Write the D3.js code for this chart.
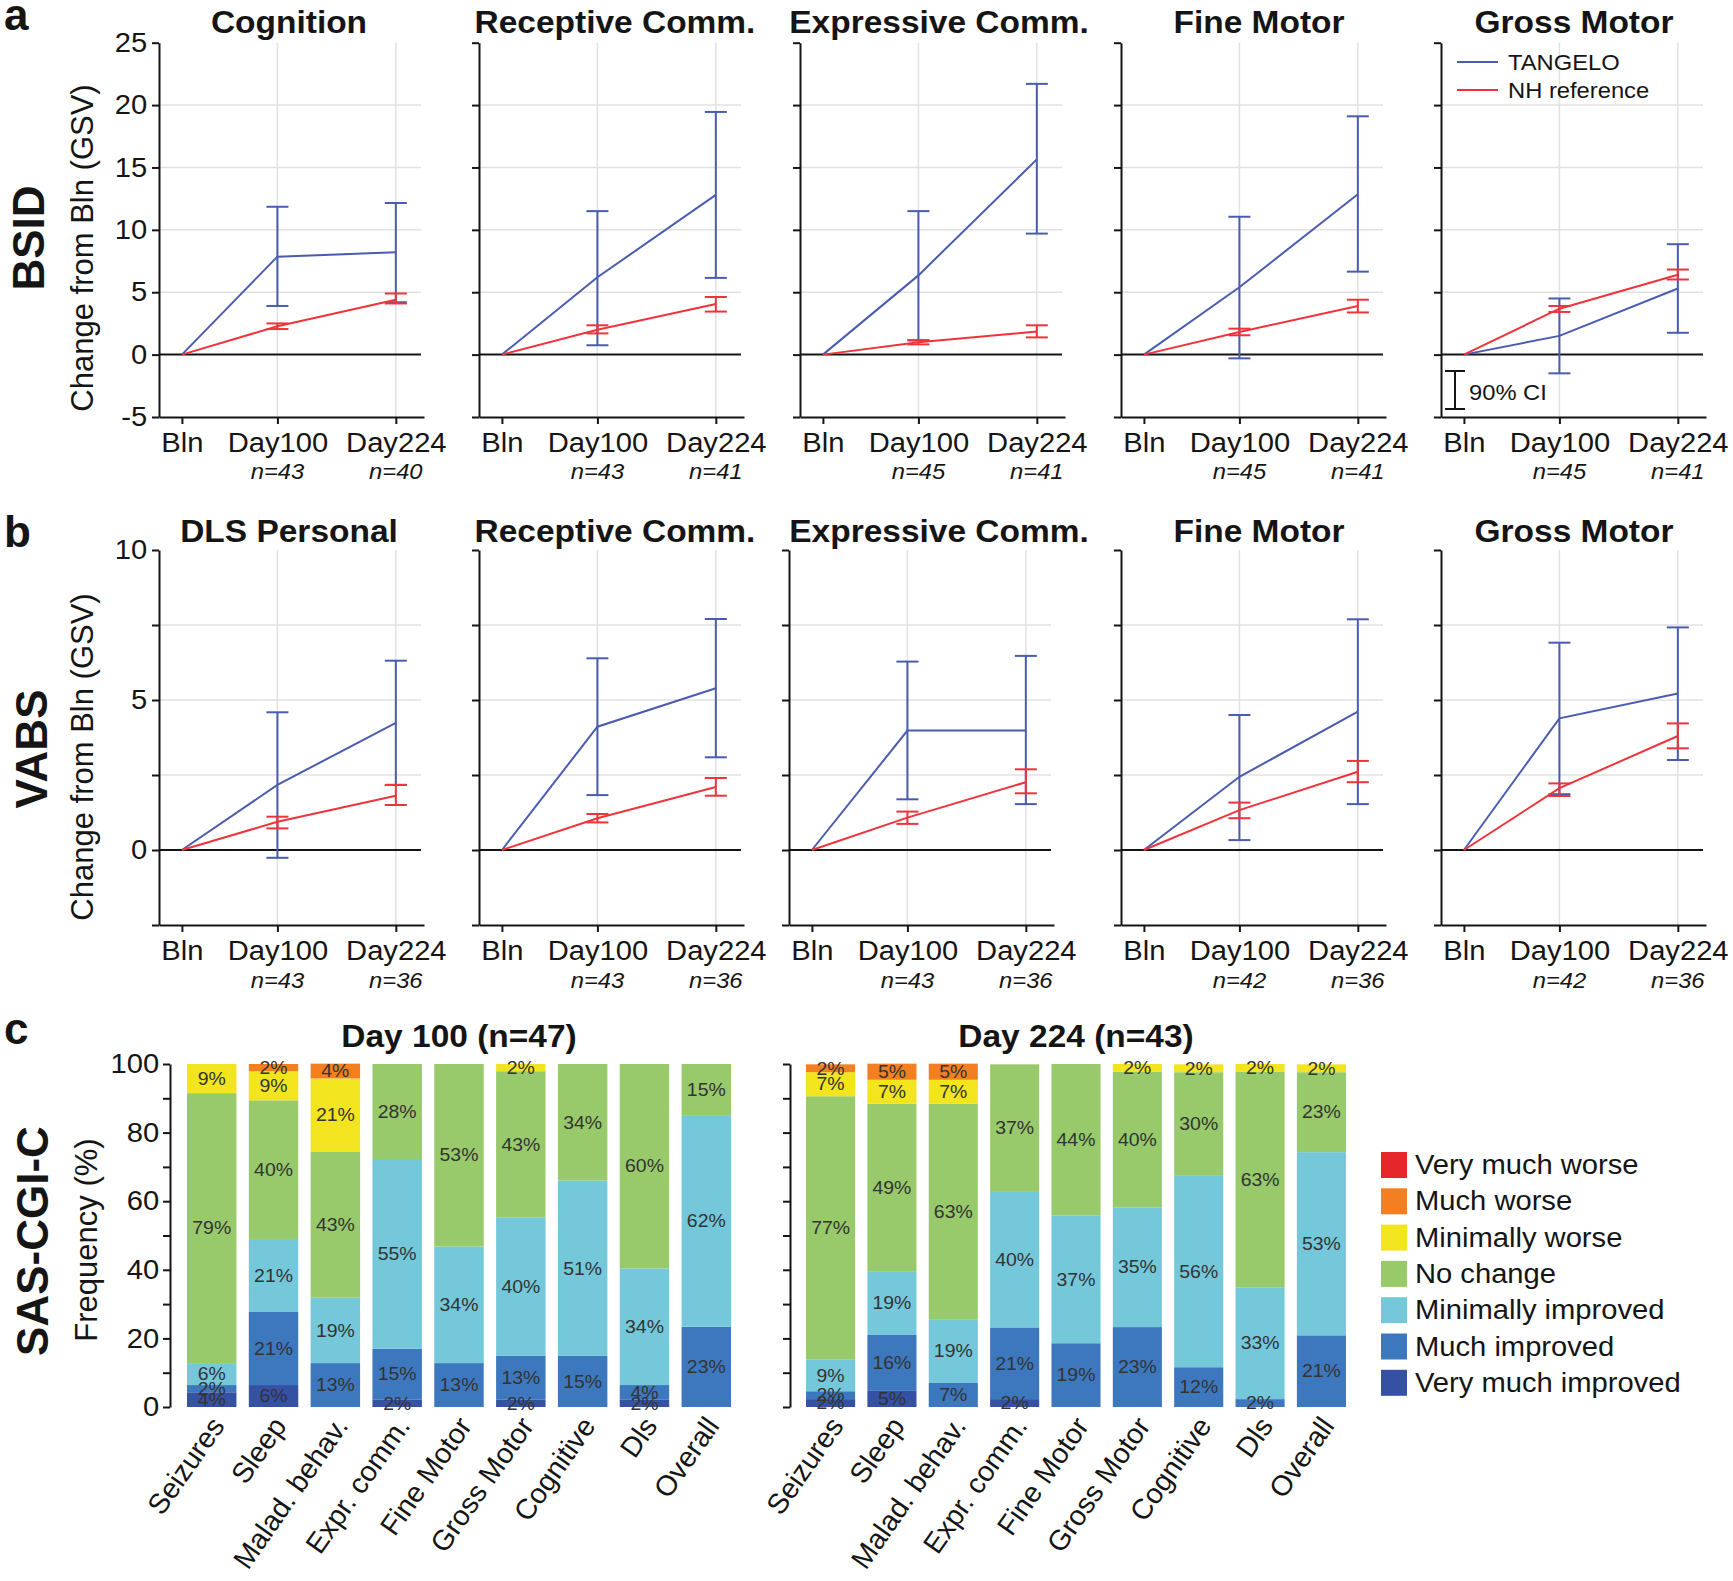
<!DOCTYPE html>
<html>
<head>
<meta charset="utf-8">
<script src="https://cdn.jsdelivr.net/npm/d3@7"></script>
<style>
  html, body { margin: 0; padding: 0; background: #fff; }
  svg { display: block; }
  text { font-family: 'Liberation Sans', Arial, Helvetica, sans-serif; }
</style>
</head>
<body>
<svg id="chart" width="1733" height="1581"></svg>
<script>
// ---------------- DATA ----------------
const timeLabels = ["Bln", "Day100", "Day224"];
const timeDays = [0, 100, 224];

// Panel a: BSID
const bsidTitles = ["Cognition", "Receptive Comm.", "Expressive Comm.", "Fine Motor", "Gross Motor"];
const bsidN = [["n=43", "n=40"], ["n=43", "n=41"], ["n=45", "n=41"], ["n=45", "n=41"], ["n=45", "n=41"]];
const bsidTangeloMean = [[0, 7.85, 8.2], [0, 6.2, 12.8], [0, 6.35, 15.65], [0, 5.4, 12.85], [0, 1.5, 5.3]];
const bsidTangeloLo   = [[null, 3.9, 4.2], [null, 0.75, 6.15], [null, 1.15, 9.7], [null, -0.3, 6.65], [null, -1.5, 1.75]];
const bsidTangeloHi   = [[null, 11.85, 12.15], [null, 11.5, 19.45], [null, 11.5, 21.7], [null, 11.05, 19.1], [null, 4.5, 8.85]];
const bsidNHMean = [[0, 2.27, 4.4], [0, 2.0, 4.05], [0, 1.0, 1.85], [0, 1.82, 3.9], [0, 3.68, 6.4]];
const bsidNHLo   = [[null, 2.05, 4.1], [null, 1.7, 3.45], [null, 0.82, 1.38], [null, 1.55, 3.38], [null, 3.42, 6.02]];
const bsidNHHi   = [[null, 2.5, 4.9], [null, 2.35, 4.62], [null, 1.15, 2.35], [null, 2.08, 4.4], [null, 3.9, 6.82]];
const bsidYTicks = [-5, 0, 5, 10, 15, 20, 25];
const bsidGrid = [5, 10, 15, 20];

// Panel b: VABS
const vabsTitles = ["DLS Personal", "Receptive Comm.", "Expressive Comm.", "Fine Motor", "Gross Motor"];
const vabsN = [["n=43", "n=36"], ["n=43", "n=36"], ["n=43", "n=36"], ["n=42", "n=36"], ["n=42", "n=36"]];
const vabsTangeloMean = [[0, 2.17, 4.24], [0, 4.11, 5.39], [0, 3.98, 3.98], [0, 2.44, 4.61], [0, 4.39, 5.22]];
const vabsTangeloLo   = [[null, -0.26, 2.17], [null, 1.83, 3.09], [null, 1.69, 1.53], [null, 0.33, 1.53], [null, 1.86, 3.0]];
const vabsTangeloHi   = [[null, 4.59, 6.31], [null, 6.39, 7.7], [null, 6.28, 6.47], [null, 4.5, 7.69], [null, 6.91, 7.42]];
const vabsNHMean = [[0, 0.94, 1.81], [0, 1.06, 2.1], [0, 1.08, 2.26], [0, 1.33, 2.61], [0, 2.06, 3.8]];
const vabsNHLo   = [[null, 0.72, 1.5], [null, 0.92, 1.81], [null, 0.87, 1.89], [null, 1.06, 2.26], [null, 1.8, 3.39]];
const vabsNHHi   = [[null, 1.11, 2.17], [null, 1.2, 2.4], [null, 1.28, 2.69], [null, 1.58, 2.97], [null, 2.22, 4.22]];
const vabsYTicks = [-2.5, 0, 2.5, 5, 7.5, 10];
const vabsYLabels = [0, 5, 10];
const vabsGrid = [2.5, 5, 7.5];

// Panel c: SAS-CGI-C (percent of patients)
const cgiCategories = ["Seizures", "Sleep", "Malad. behav.", "Expr. comm.", "Fine Motor", "Gross Motor", "Cognitive", "Dls", "Overall"];
const cgiLevels = ["Very much worse", "Much worse", "Minimally worse", "No change", "Minimally improved", "Much improved", "Very much improved"];
const cgiTitles = ["Day 100 (n=47)", "Day 224 (n=43)"];
// Day 100
const d100VeryMuchImproved = [4.3, 6.4, 0, 2.1, 0, 2.1, 0, 2.1, 0];
const d100MuchImproved     = [2.1, 21.3, 12.8, 14.9, 12.8, 12.8, 14.9, 4.3, 23.4];
const d100MinImproved      = [6.4, 21.3, 19.1, 55.3, 34.0, 40.4, 51.1, 34.0, 61.7];
const d100NoChange         = [78.7, 40.4, 42.6, 27.7, 53.2, 42.6, 34.0, 59.6, 14.9];
const d100MinWorse         = [8.5, 8.5, 21.3, 0, 0, 2.1, 0, 0, 0];
const d100MuchWorse        = [0, 2.1, 4.3, 0, 0, 0, 0, 0, 0];
const d100VeryMuchWorse    = [0, 0, 0, 0, 0, 0, 0, 0, 0];
// Day 224
const d224VeryMuchImproved = [2.3, 4.7, 0, 2.3, 0, 0, 0, 0, 0];
const d224MuchImproved     = [2.3, 16.3, 7.0, 20.9, 18.6, 23.3, 11.6, 2.3, 20.9];
const d224MinImproved      = [9.3, 18.6, 18.6, 39.5, 37.2, 34.9, 55.8, 32.6, 53.4];
const d224NoChange         = [76.7, 48.8, 62.8, 37.2, 44.2, 39.5, 30.2, 62.8, 23.3];
const d224MinWorse         = [7.0, 7.0, 7.0, 0, 0, 2.3, 2.3, 2.3, 2.3];
const d224MuchWorse        = [2.3, 4.7, 4.7, 0, 0, 0, 0, 0, 0];
const d224VeryMuchWorse    = [0, 0, 0, 0, 0, 0, 0, 0, 0];
const pctTicks = [0, 10, 20, 30, 40, 50, 60, 70, 80, 90, 100];
const pctLabels = [0, 20, 40, 60, 80, 100];

// ---------------- STYLE ----------------
const SX = 1.08;
const BLUE = "#4a5cb0";
const RED = "#f0333b";
const INK = "#151515";
const GRID = "#e2e2e2";
const levelColors = {
  "Very much worse": "#e4262b",
  "Much worse": "#f47f20",
  "Minimally worse": "#f2e41e",
  "No change": "#98c96a",
  "Minimally improved": "#74c8da",
  "Much improved": "#3d78bf",
  "Very much improved": "#3451a3"
};

const svg = d3.select("#chart");
svg.append("rect").attr("width", 1733).attr("height", 1581).attr("fill", "#fff");

function htext(sel, x, y, s, size, o = {}) {
  return sel.append("text")
    .attr("transform", `translate(${x},${y}) scale(${o.sx || SX},1)`)
    .attr("font-size", size)
    .attr("font-weight", o.bold ? "bold" : null)
    .attr("font-style", o.italic ? "italic" : null)
    .attr("text-anchor", o.anchor || "start")
    .attr("dominant-baseline", o.baseline || null)
    .attr("fill", o.fill || INK)
    .text(s);
}
function vtext(sel, x, y, s, size, o = {}) {
  return sel.append("text")
    .attr("transform", `translate(${x},${y}) rotate(-90)`)
    .attr("font-size", size)
    .attr("font-weight", o.bold ? "bold" : null)
    .attr("text-anchor", "middle")
    .attr("fill", o.fill || INK)
    .text(s);
}
function styleAxis(g, fontSize) {
  g.select(".domain").attr("stroke", INK).attr("stroke-width", 2);
  g.selectAll(".tick line").attr("stroke", INK).attr("stroke-width", 2);
  g.selectAll(".tick text").attr("font-size", fontSize).attr("fill", INK)
    .attr("font-family", "'Liberation Sans', Arial, sans-serif")
    .attr("transform", `scale(${SX},1)`);
}

// ---------------- LINE PANELS ----------------
function linePanel(cfg) {
  const g = svg.append("g");
  const x0 = cfg.x0;
  const x = d3.scaleLinear().domain([-24, 253.5]).range([x0, x0 + 265]);
  const y = d3.scaleLinear().domain(cfg.yDomain).range(cfg.yRange);
  const gridRight = x0 + 262;
  const [yb, yt] = cfg.yDomain;

  // grid
  g.selectAll(".hg").data(cfg.grid).join("line")
    .attr("x1", x0).attr("x2", gridRight)
    .attr("y1", d => y(d)).attr("y2", d => y(d))
    .attr("stroke", GRID).attr("stroke-width", 1.5);
  g.selectAll(".vg").data(timeDays.slice(1)).join("line")
    .attr("x1", d => x(d)).attr("x2", d => x(d))
    .attr("y1", y(yt)).attr("y2", y(yb))
    .attr("stroke", GRID).attr("stroke-width", 1.5);
  // zero line
  g.append("line").attr("x1", x0).attr("x2", gridRight)
    .attr("y1", y(0)).attr("y2", y(0)).attr("stroke", INK).attr("stroke-width", 2);

  // axes
  const ya = g.append("g").attr("transform", `translate(${x0},0)`)
    .call(d3.axisLeft(y).tickValues(cfg.yTicks).tickSize(7).tickSizeOuter(0).tickPadding(4)
      .tickFormat(d => (cfg.showY && cfg.yLabels.includes(d)) ? String(d) : ""));
  styleAxis(ya, 27);
  const xa = g.append("g").attr("transform", `translate(0,${y(yb)})`)
    .call(d3.axisBottom(x).tickValues(timeDays).tickSize(7).tickSizeOuter(0).tickPadding(9)
      .tickFormat((d, i) => timeLabels[i]));
  styleAxis(xa, 27);

  // n labels
  cfg.n.forEach((s, i) => {
    htext(g, x(timeDays[i + 1]), cfg.nBase, s, 22, { italic: true, anchor: "middle" });
  });

  // series
  const line = d3.line().x((d, i) => x(timeDays[i])).y(d => y(d));
  function series(mean, lo, hi, color) {
    g.append("path").datum(mean).attr("d", line)
      .attr("fill", "none").attr("stroke", color).attr("stroke-width", 2);
    const eb = timeDays.map((d, i) => ({ d, lo: lo[i], hi: hi[i] })).filter(e => e.lo !== null);
    g.selectAll(null).data(eb).join("line")
      .attr("x1", e => x(e.d)).attr("x2", e => x(e.d))
      .attr("y1", e => y(e.lo)).attr("y2", e => y(e.hi))
      .attr("stroke", color).attr("stroke-width", 2);
    const caps = eb.flatMap(e => [{ d: e.d, v: e.lo }, { d: e.d, v: e.hi }]);
    g.selectAll(null).data(caps).join("line")
      .attr("x1", c => x(c.d) - 11).attr("x2", c => x(c.d) + 11)
      .attr("y1", c => y(c.v)).attr("y2", c => y(c.v))
      .attr("stroke", color).attr("stroke-width", 2);
  }
  series(cfg.tMean, cfg.tLo, cfg.tHi, BLUE);
  series(cfg.nMean, cfg.nLo, cfg.nHi, RED);

  // title
  htext(g, cfg.titleX, cfg.titleBase, cfg.title, 31, { bold: true, anchor: "middle" });
  return { g, x, y };
}

const titleCenters = [289, 615, 939, 1259, 1574];
const rowAx0 = [159, 479, 800, 1121, 1441];
const rowBx0 = [159, 479, 789, 1121, 1441];

bsidTitles.forEach((t, i) => {
  linePanel({
    x0: rowAx0[i], yDomain: [-5, 25], yRange: [417, 42.7], yTicks: bsidYTicks, yLabels: bsidYTicks,
    grid: bsidGrid, showY: i === 0, n: bsidN[i], nBase: 479, title: t, titleX: titleCenters[i], titleBase: 33,
    tMean: bsidTangeloMean[i], tLo: bsidTangeloLo[i], tHi: bsidTangeloHi[i],
    nMean: bsidNHMean[i], nLo: bsidNHLo[i], nHi: bsidNHHi[i]
  });
});
vabsTitles.forEach((t, i) => {
  linePanel({
    x0: rowBx0[i], yDomain: [-2.5, 10], yRange: [925, 550], yTicks: vabsYTicks, yLabels: vabsYLabels,
    grid: vabsGrid, showY: i === 0, n: vabsN[i], nBase: 988, title: t, titleX: titleCenters[i], titleBase: 542,
    tMean: vabsTangeloMean[i], tLo: vabsTangeloLo[i], tHi: vabsTangeloHi[i],
    nMean: vabsNHMean[i], nLo: vabsNHLo[i], nHi: vabsNHHi[i]
  });
});

// legend for line panels (in Gross Motor, panel a)
const lg = svg.append("g");
[["TANGELO", BLUE, 62], ["NH reference", RED, 90]].forEach(([lab, col, yy]) => {
  lg.append("line").attr("x1", 1457).attr("x2", 1498).attr("y1", yy).attr("y2", yy)
    .attr("stroke", col).attr("stroke-width", 2);
  htext(lg, 1508, yy, lab, 22, { baseline: "central" });
});
// 90% CI key
lg.append("line").attr("x1", 1455).attr("x2", 1455).attr("y1", 371).attr("y2", 409).attr("stroke", INK).attr("stroke-width", 2);
lg.append("line").attr("x1", 1445).attr("x2", 1465).attr("y1", 371).attr("y2", 371).attr("stroke", INK).attr("stroke-width", 2);
lg.append("line").attr("x1", 1445).attr("x2", 1465).attr("y1", 409).attr("y2", 409).attr("stroke", INK).attr("stroke-width", 2);
htext(lg, 1469, 392, "90% CI", 22, { baseline: "central" });

// ---------------- STACKED BARS ----------------
const yPct = d3.scaleLinear().domain([0, 100]).range([1407, 1064]);
const stackOrder = ["Very much improved", "Much improved", "Minimally improved", "No change", "Minimally worse", "Much worse", "Very much worse"];

function buildRows(arrs) {
  return cgiCategories.map((c, i) => {
    const r = { cat: c };
    stackOrder.forEach((k, j) => r[k] = arrs[j][i]);
    return r;
  });
}
const rows100 = buildRows([d100VeryMuchImproved, d100MuchImproved, d100MinImproved, d100NoChange, d100MinWorse, d100MuchWorse, d100VeryMuchWorse]);
const rows224 = buildRows([d224VeryMuchImproved, d224MuchImproved, d224MinImproved, d224NoChange, d224MinWorse, d224MuchWorse, d224VeryMuchWorse]);

function barPanel(rows, axisX, bandRange, title, showLabels) {
  const g = svg.append("g");
  const x = d3.scaleBand().domain(cgiCategories).range(bandRange).paddingInner(0.2).paddingOuter(0.1);
  const series = d3.stack().keys(stackOrder)(rows);
  const sg = g.selectAll(".s").data(series).join("g").attr("fill", s => levelColors[s.key]);
  sg.selectAll("rect").data(s => s).join("rect")
    .attr("x", d => x(d.data.cat)).attr("width", x.bandwidth())
    .attr("y", d => yPct(d[1])).attr("height", d => yPct(d[0]) - yPct(d[1]));
  // percent labels
  series.forEach(s => {
    s.forEach(d => {
      const v = d[1] - d[0];
      if (v > 0) {
        htext(g, x(d.data.cat) + x.bandwidth() / 2, yPct((d[0] + d[1]) / 2), Math.round(v) + "%", 18,
          { anchor: "middle", baseline: "central", fill: "#333" });
      }
    });
  });
  // axis
  const ya = g.append("g").attr("transform", `translate(${axisX},0)`)
    .call(d3.axisLeft(yPct).tickValues(pctTicks).tickSize(7).tickSizeOuter(0).tickPadding(3)
      .tickFormat(d => (showLabels && pctLabels.includes(d)) ? String(d) : ""));
  styleAxis(ya, 27);
  // category labels
  cgiCategories.forEach(c => {
    g.append("text")
      .attr("transform", `translate(${x(c) + x.bandwidth() / 2 + 14},1426) rotate(-55)`)
      .attr("font-size", 28.5).attr("text-anchor", "end").attr("fill", INK).text(c);
  });
  // title
  const mid = (bandRange[0] + bandRange[1]) / 2;
  htext(g, mid, 1047, title, 31, { bold: true, anchor: "middle" });
}
barPanel(rows100, 170, [180.8, 737.2], cgiTitles[0], true);
barPanel(rows224, 790, [799.9, 1352.1], cgiTitles[1], false);

// legend for bars
const bl = svg.append("g");
cgiLevels.forEach((lev, i) => {
  const yy = 1152 + i * 36.3;
  bl.append("rect").attr("x", 1381).attr("y", yy).attr("width", 26).attr("height", 26).attr("fill", levelColors[lev]);
  htext(bl, 1415, yy + 13, lev, 27, { baseline: "central" });
});

// ---------------- ROW LABELS ----------------
htext(svg, 4, 30, "a", 44, { bold: true, sx: 1.0 });
htext(svg, 4, 547, "b", 44, { bold: true, sx: 1.0 });
htext(svg, 4, 1044, "c", 44, { bold: true, sx: 1.0 });
vtext(svg, 44, 238, "BSID", 44, { bold: true });
vtext(svg, 47, 749, "VABS", 44, { bold: true });
vtext(svg, 48, 1241, "SAS-CGI-C", 44, { bold: true });
vtext(svg, 93, 248, "Change from Bln (GSV)", 31);
vtext(svg, 93, 757, "Change from Bln (GSV)", 31);
vtext(svg, 97, 1240, "Frequency (%)", 31);
</script>
</body>
</html>
